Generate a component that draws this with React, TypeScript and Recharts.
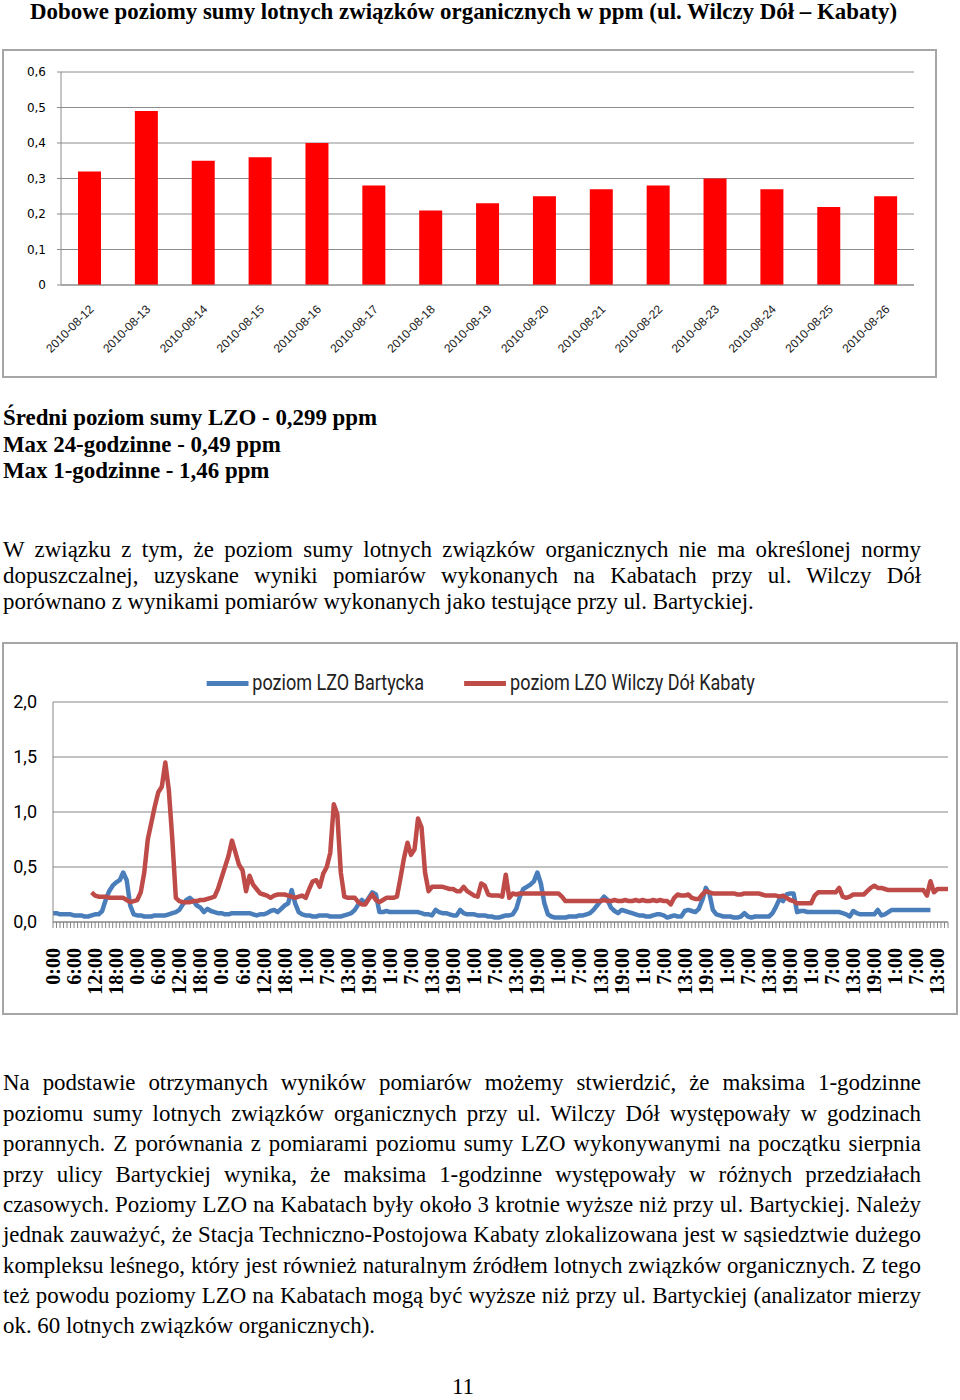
import React from 'react';
import { BarChart, Bar, LineChart, Line, XAxis, YAxis, CartesianGrid } from 'recharts';

// Daily averages (top chart)
const DAYS = [
  '2010-08-12', '2010-08-13', '2010-08-14', '2010-08-15', '2010-08-16',
  '2010-08-17', '2010-08-18', '2010-08-19', '2010-08-20', '2010-08-21',
  '2010-08-22', '2010-08-23', '2010-08-24', '2010-08-25', '2010-08-26',
];
const DAILY_LZO = [0.32, 0.49, 0.35, 0.36, 0.40, 0.28, 0.21, 0.23, 0.25, 0.27, 0.28, 0.30, 0.27, 0.22, 0.25];
const DAILY_TICKS = [0, 0.1, 0.2, 0.3, 0.4, 0.5, 0.6];
// category borders, where Excel puts the small tick marks
const DAY_BORDERS = [0, 1, 2, 3, 4, 5, 6, 7, 8, 9, 10, 11, 12, 13, 14, 15];

// Hourly values (bottom chart), one entry per hour
const HOUR_TICK_LABELS = [
  '0:00', '6:00', '12:00', '18:00', '0:00', '6:00', '12:00', '18:00', '0:00', '6:00', '12:00', '18:00',
  '1:00', '7:00', '13:00', '19:00', '1:00', '7:00', '13:00', '19:00', '1:00', '7:00', '13:00', '19:00',
  '1:00', '7:00', '13:00', '19:00', '1:00', '7:00', '13:00', '19:00', '1:00', '7:00', '13:00', '19:00',
  '1:00', '7:00', '13:00', '19:00', '1:00', '7:00', '13:00',
];
const HOURLY_TICKS = [0, 0.5, 1, 1.5, 2];

const BARTYCKA = [
  0.08, 0.08, 0.07, 0.07, 0.07, 0.07, 0.06, 0.06, 0.06, 0.05, 0.05, 0.06,
  0.07, 0.07, 0.10, 0.20, 0.28, 0.33, 0.36, 0.38, 0.45, 0.38, 0.15, 0.07,
  0.06, 0.06, 0.05, 0.05, 0.05, 0.06, 0.06, 0.06, 0.06, 0.07, 0.08, 0.09,
  0.11, 0.16, 0.20, 0.22, 0.19, 0.15, 0.13, 0.09, 0.12, 0.10, 0.09, 0.08,
  0.08, 0.07, 0.07, 0.08, 0.08, 0.08, 0.08, 0.08, 0.08, 0.07, 0.06, 0.07,
  0.07, 0.08, 0.10, 0.11, 0.09, 0.12, 0.15, 0.17, 0.29, 0.17, 0.09, 0.07,
  0.06, 0.06, 0.05, 0.05, 0.06, 0.06, 0.06, 0.05, 0.05, 0.05, 0.05, 0.06,
  0.07, 0.08, 0.11, 0.16, 0.20, 0.17, 0.22, 0.27, 0.25, 0.09, 0.09, 0.10,
  0.09, 0.09, 0.09, 0.09, 0.09, 0.09, 0.09, 0.09, 0.09, 0.08, 0.07, 0.07,
  0.06, 0.11, 0.09, 0.08, 0.08, 0.07, 0.06, 0.06, 0.11, 0.08, 0.07, 0.07,
  0.07, 0.06, 0.06, 0.06, 0.05, 0.05, 0.04, 0.04, 0.05, 0.06, 0.06, 0.07,
  0.12, 0.23, 0.30, 0.32, 0.34, 0.37, 0.45, 0.35, 0.17, 0.07, 0.05, 0.04,
  0.04, 0.04, 0.04, 0.05, 0.05, 0.05, 0.06, 0.06, 0.07, 0.08, 0.11, 0.15,
  0.19, 0.23, 0.20, 0.13, 0.10, 0.08, 0.11, 0.10, 0.09, 0.08, 0.07, 0.06,
  0.06, 0.05, 0.05, 0.06, 0.07, 0.07, 0.06, 0.04, 0.05, 0.06, 0.05, 0.05,
  0.10, 0.11, 0.10, 0.09, 0.12, 0.20, 0.31, 0.26, 0.11, 0.07, 0.06, 0.05,
  0.05, 0.05, 0.04, 0.04, 0.05, 0.08, 0.05, 0.04, 0.05, 0.05, 0.05, 0.05,
  0.05, 0.08, 0.14, 0.21, 0.19, 0.25, 0.26, 0.26, 0.09, 0.10, 0.10, 0.09,
  0.09, 0.09, 0.09, 0.09, 0.09, 0.09, 0.09, 0.09, 0.09, 0.08, 0.07, 0.05,
  0.10, 0.08, 0.07, 0.07, 0.07, 0.07, 0.07, 0.11, 0.06, 0.07, 0.09, 0.11,
  0.11, 0.11, 0.11, 0.11, 0.11, 0.11, 0.11, 0.11, 0.11, 0.11, 0.11, null,
  null, null, null, null,
];

const KABATY = [
  null, null, null, null, null, null, null, null, null, null, null, 0.27,
  0.24, 0.23, 0.23, 0.23, 0.22, 0.22, 0.22, 0.22, 0.22, 0.20, 0.18, 0.19,
  0.20, 0.27, 0.45, 0.75, 0.90, 1.05, 1.18, 1.23, 1.45, 1.20, 0.75, 0.22,
  0.19, 0.18, 0.18, 0.18, 0.19, 0.19, 0.20, 0.20, 0.21, 0.22, 0.23, 0.30,
  0.40, 0.50, 0.60, 0.74, 0.63, 0.52, 0.47, 0.28, 0.42, 0.34, 0.30, 0.26,
  0.25, 0.24, 0.22, 0.24, 0.25, 0.25, 0.25, 0.24, 0.23, 0.22, 0.23, 0.24,
  0.22, 0.30, 0.37, 0.38, 0.32, 0.44, 0.50, 0.63, 1.07, 0.98, 0.45, 0.23,
  0.22, 0.22, 0.22, 0.18, 0.16, 0.16, 0.21, 0.25, 0.20, 0.18, 0.20, 0.22,
  0.22, 0.22, 0.23, 0.40, 0.58, 0.72, 0.61, 0.66, 0.94, 0.86, 0.45, 0.28,
  0.32, 0.32, 0.32, 0.32, 0.31, 0.30, 0.30, 0.28, 0.28, 0.32, 0.28, 0.26,
  0.24, 0.23, 0.35, 0.33, 0.25, 0.24, 0.24, 0.24, 0.23, 0.43, 0.22, 0.26,
  0.25, 0.26, 0.26, 0.26, 0.26, 0.26, 0.26, 0.26, 0.26, 0.26, 0.26, 0.26,
  0.26, 0.23, 0.19, 0.19, 0.19, 0.19, 0.19, 0.19, 0.19, 0.19, 0.19, 0.19,
  0.19, 0.20, 0.19, 0.19, 0.20, 0.19, 0.19, 0.20, 0.19, 0.19, 0.20, 0.19,
  0.20, 0.19, 0.19, 0.20, 0.19, 0.20, 0.19, 0.19, 0.16, 0.22, 0.25, 0.24,
  0.24, 0.25, 0.22, 0.21, 0.21, 0.25, 0.28, 0.27, 0.26, 0.26, 0.26, 0.26,
  0.26, 0.26, 0.26, 0.25, 0.25, 0.26, 0.26, 0.26, 0.26, 0.26, 0.25, 0.24,
  0.24, 0.24, 0.24, 0.23, 0.24, 0.22, 0.20, 0.19, 0.17, 0.17, 0.17, 0.17,
  0.17, 0.24, 0.27, 0.27, 0.27, 0.27, 0.27, 0.27, 0.31, 0.23, 0.22, 0.23,
  0.25, 0.25, 0.25, 0.25, 0.28, 0.31, 0.33, 0.31, 0.31, 0.30, 0.29, 0.29,
  0.29, 0.29, 0.29, 0.29, 0.29, 0.29, 0.29, 0.29, 0.29, 0.24, 0.37, 0.27,
  0.30, 0.30, 0.30, 0.30,
];

const SERIES = [
  { key: 'bartycka', name: 'poziom LZO Bartycka', color: '#4a7ebb' },
  { key: 'kabaty', name: 'poziom LZO Wilczy Dół Kabaty', color: '#be4b48' },
];

const STATS = [
  'Średni poziom sumy LZO - 0,299 ppm',
  'Max 24-godzinne - 0,49 ppm',
  'Max 1-godzinne - 1,46 ppm',
];

const PARA1 = [
  'W związku z tym, że poziom sumy lotnych związków organicznych nie ma określonej normy',
  'dopuszczalnej, uzyskane wyniki pomiarów wykonanych na Kabatach przy ul. Wilczy Dół',
  'porównano z wynikami pomiarów wykonanych jako testujące przy ul. Bartyckiej.',
];

const PARA2 = [
  'Na podstawie otrzymanych wyników pomiarów możemy stwierdzić, że maksima 1-godzinne',
  'poziomu sumy lotnych związków organicznych przy ul. Wilczy Dół występowały w godzinach',
  'porannych. Z porównania z pomiarami poziomu sumy LZO wykonywanymi na początku sierpnia',
  'przy ulicy Bartyckiej wynika, że maksima 1-godzinne występowały w różnych przedziałach',
  'czasowych. Poziomy LZO na Kabatach były około 3 krotnie wyższe niż przy ul. Bartyckiej. Należy',
  'jednak zauważyć, że Stacja Techniczno-Postojowa Kabaty zlokalizowana jest w sąsiedztwie dużego',
  'kompleksu leśnego, który jest również naturalnym źródłem lotnych związków organicznych. Z tego',
  'też powodu poziomy LZO na Kabatach mogą być wyższe niż przy ul. Bartyckiej (analizator mierzy',
  'ok. 60 lotnych związków organicznych).',
];

const dailyData = DAYS.map((day, i) => ({ day, value: DAILY_LZO[i] }));
const hourlyData = BARTYCKA.map((b, i) => ({ i, bartycka: b, kabaty: KABATY[i] }));

const comma = (v: number) => (v === 0 ? '0' : v.toFixed(1).replace('.', ','));
const comma1 = (v: number) => v.toFixed(1).replace('.', ',');

const DayTick = ({ x, y, payload }: any) => (
  <text
    transform={`translate(${x + 5},${y + 23}) rotate(-45)`}
    textAnchor="end"
    fontFamily="Liberation Sans, Arial, sans-serif"
    fontSize={12}
    fill="#1a1a1a"
  >
    {payload.value}
  </text>
);

const HourTick = ({ x, y, payload }: any) => {
  const i = payload.value;
  if (i % 6 !== 0) return <g />;
  return (
    <text
      transform={`translate(${x},${y + 18}) rotate(-90)`}
      textAnchor="end"
      dy="0.35em"
      fontFamily="Liberation Serif, Times New Roman, serif"
      fontWeight="bold"
      fontSize={20}
      fill="#000"
    >
      {HOUR_TICK_LABELS[i / 6]}
    </text>
  );
};

const textLine = (top: number, lh: number): React.CSSProperties => ({
  position: 'absolute',
  left: 3,
  top,
  lineHeight: `${lh}px`,
  whiteSpace: 'nowrap',
});

export default function App() {
  return (
    <div
      style={{
        position: 'absolute',
        left: 0,
        top: 0,
        width: 960,
        height: 1400,
        background: '#fff',
        overflow: 'hidden',
        fontFamily: '"Liberation Serif", "Times New Roman", serif',
        fontSize: 22.9,
        color: '#000',
      }}
    >
      <div style={{ ...textLine(0, 24), left: 30, fontWeight: 'bold' }}>
        Dobowe poziomy sumy lotnych związków organicznych w ppm (ul. Wilczy Dół – Kabaty)
      </div>

      {/* daily bar chart */}
      <div style={{ position: 'absolute', left: 2, top: 49, width: 935, height: 329, border: '2px solid #a6a6a6', boxSizing: 'border-box' }} />
      <div style={{ position: 'absolute', left: 3, top: 50 }}>
        <BarChart width={933} height={327} data={dailyData} margin={{ top: 22, right: 22, left: 0, bottom: 0 }} barSize={23}>
          <CartesianGrid vertical={false} stroke="#8c8c8c" />
          <XAxis
            xAxisId="borders"
            type="number"
            domain={[0, 15]}
            ticks={DAY_BORDERS}
            interval={0}
            height={0}
            tick={false}
            tickSize={5}
            tickLine={{ stroke: '#8c8c8c' }}
            axisLine={false}
            allowDataOverflow
          />
          <XAxis
            dataKey="day"
            interval={0}
            height={92}
            tickLine={false}
            tickSize={0}
            axisLine={{ stroke: '#8c8c8c' }}
            tick={(p: any) => <DayTick {...p} />}
          />
          <YAxis
            domain={[0, 0.6]}
            ticks={DAILY_TICKS}
            width={58}
            tickSize={4}
            tickMargin={11}
            axisLine={{ stroke: '#8c8c8c' }}
            tickLine={{ stroke: '#8c8c8c' }}
            tickFormatter={comma}
            tick={{ fontFamily: 'DejaVu Sans, Verdana, sans-serif', fontSize: 12, fill: '#000' }}
          />
          <Bar dataKey="value" fill="#ff0000" isAnimationActive={false} />
        </BarChart>
      </div>

      {STATS.map((s, k) => (
        <div key={s} style={{ ...textLine(405.4 + k * 26.5, 26), fontWeight: 'bold' }}>{s}</div>
      ))}

      {PARA1.map((s, k) => (
        <div
          key={s}
          style={{
            ...textLine(537.4 + k * 26, 26),
            width: 918,
            textAlign: 'justify',
            textAlignLast: k < PARA1.length - 1 ? 'justify' : 'left',
          }}
        >
          {s}
        </div>
      ))}

      {/* hourly line chart */}
      <div style={{ position: 'absolute', left: 2, top: 642, width: 956, height: 373, border: '2px solid #a6a6a6', boxSizing: 'border-box' }} />
      <div style={{ position: 'absolute', left: 3, top: 643 }}>
        <LineChart width={954} height={371} data={hourlyData} margin={{ top: 59, right: 9, left: 0, bottom: 0 }}>
          <CartesianGrid vertical={false} stroke="#868686" />
          <XAxis
            dataKey="i"
            interval={0}
            height={92}
            tickSize={6}
            tickMargin={2}
            tickLine={{ stroke: '#868686' }}
            axisLine={{ stroke: '#868686' }}
            tick={(p: any) => <HourTick {...p} />}
          />
          <YAxis
            domain={[0, 2]}
            ticks={HOURLY_TICKS}
            width={50}
            tickLine={false}
            tickSize={0}
            tickMargin={16}
            axisLine={{ stroke: '#868686' }}
            tickFormatter={comma1}
            tick={{ fontFamily: '"Liberation Sans Narrow", "Arial Narrow", Roboto, sans-serif', fontSize: 18, fill: '#000' }}
          />
          {SERIES.map((s) => (
            <Line
              key={s.key}
              type="linear"
              dataKey={s.key}
              name={s.name}
              stroke={s.color}
              strokeWidth={4.5}
              strokeLinejoin="round"
              dot={false}
              activeDot={false}
              isAnimationActive={false}
            />
          ))}
        </LineChart>
      </div>
      {/* legend, squeezed horizontally like the narrow font of the original */}
      <div
        style={{
          position: 'absolute',
          left: 3,
          top: 670,
          width: 954,
          display: 'flex',
          justifyContent: 'center',
          gap: 49,
          transform: 'scaleX(0.82)',
          transformOrigin: '480px 0',
          fontFamily: '"Liberation Sans Narrow", "Arial Narrow", Roboto, sans-serif',
          fontSize: 22,
          lineHeight: '26px',
          color: '#222',
        }}
      >
        {SERIES.map((s) => (
          <div key={s.key} style={{ display: 'flex', alignItems: 'center' }}>
            <span style={{ display: 'inline-block', width: 51, height: 5, background: s.color, marginRight: 5 }} />
            <span>{s.name}</span>
          </div>
        ))}
      </div>

      {PARA2.map((s, k) => (
        <div
          key={s}
          style={{
            ...textLine(1068.4 + k * 30.375, 30),
            width: 918,
            textAlign: 'justify',
            textAlignLast: k < PARA2.length - 1 ? 'justify' : 'left',
          }}
        >
          {s}
        </div>
      ))}

      <div style={{ ...textLine(1377.5, 18), left: 452 }}>11</div>
    </div>
  );
}
